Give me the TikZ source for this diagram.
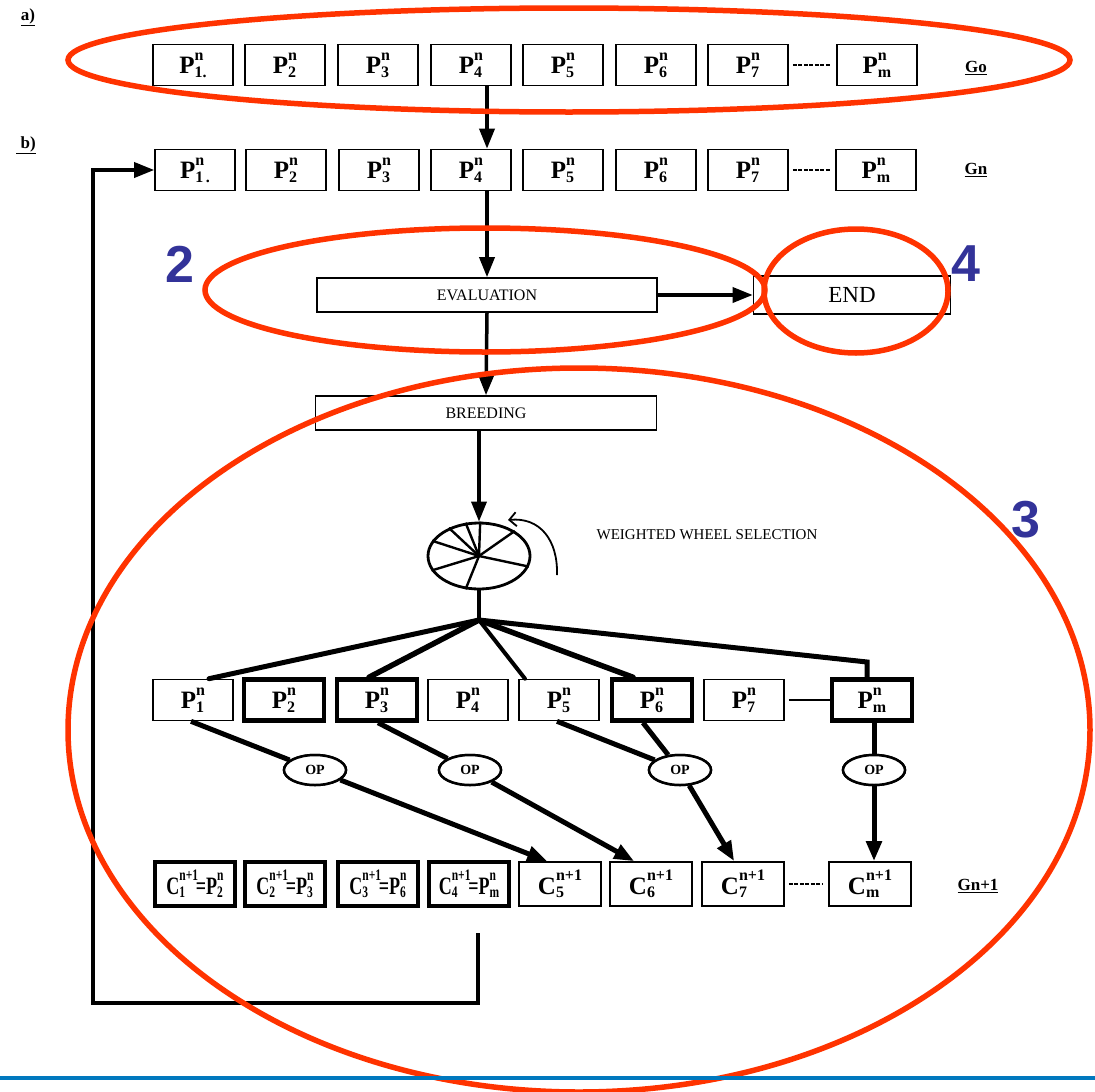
\documentclass[tikz,border=0pt]{standalone}
\usepackage{fontspec}
\setmainfont{Liberation Serif}
\newfontfamily\numfont{Liberation Sans}
\usetikzlibrary{arrows.meta,calc,shapes.geometric}
\definecolor{redc}{RGB}{255,51,0}
\definecolor{bluec}{RGB}{51,51,153}
\definecolor{linec}{RGB}{0,120,190}
\newcommand\smallfnt{\fontsize{16}{16}\selectfont}
\newcommand\supsub[2]{%
  \setbox0=\hbox{\raisebox{0.55em}{\smallfnt #1}}%
  \setbox2=\hbox{\raisebox{-0.14em}{\smallfnt #2}}%
  \ifdim\wd0>\wd2 \rlap{\box2}\box0 \else \rlap{\box0}\box2 \fi}
\newcommand\PLab[1]{P\supsub{n}{#1}}
\newcommand\CLab[1]{C\supsub{n+1}{#1}}
\newcommand\CEq[2]{\scalebox{0.72}[1]{C\supsub{n+1}{#1}\kern-3pt=P\supsub{n}{#2}}}
\tikzset{
  pb/.style={draw, line width=1.6pt, minimum width=80pt, minimum height=41pt, inner sep=0pt,
    font=\fontsize{25}{27}\selectfont\bfseries},
  pbt/.style={pb, line width=4.5pt},
  cb/.style={pb, minimum height=44pt, minimum width=82pt},
  cbt/.style={cb, line width=4.5pt, minimum width=80pt},
  wbox/.style={draw, line width=1.6pt, minimum width=340pt, minimum height=34pt, inner sep=0pt,
    font=\fontsize{16}{18}\selectfont},
  lab/.style={font=\fontsize{17}{19}\selectfont\bfseries},
  arr/.style={line width=3.5pt, -{Triangle[length=20pt,width=15pt]}},
  opn/.style={draw, ellipse, line width=2.5pt, fill=white, minimum width=62pt, minimum height=30pt,
    inner sep=0pt, font=\fontsize{14}{15}\selectfont\bfseries},
  opl/.style={line width=5pt},
  dsh/.style={line width=1.5pt, dash pattern=on 4pt off 1.5pt, shorten <=4pt, shorten >=5pt},
  redov/.style={draw=redc, line width=5.5pt},
  num/.style={text=bluec, font=\numfont\bfseries\fontsize{52}{52}\selectfont}
}
\begin{document}
\begin{tikzpicture}[x=1pt,y=-1pt]
\fill[white] (0,0) rectangle (1095,1092);
\useasboundingbox (0,0) rectangle (1095,1092);

% labels a) b)
\node[lab] (la) at (28,17) {\underline{a)}};
\node[lab] (lb) at (26,145) {\underline{\ b)}};

% row a (Go)
\node[pb] (a1) at (193,65) {\PLab{1.}};
\node[pb] (a2) at (285,65) {\PLab{2}};
\node[pb] (a3) at (378,65) {\PLab{3}};
\node[pb] (a4) at (471,65) {\PLab{4}};
\node[pb] (a5) at (563,65) {\PLab{5}};
\node[pb] (a6) at (656,65) {\PLab{6}};
\node[pb] (a7) at (748,65) {\PLab{7}};
\node[pb] (am) at (877,65) {\PLab{m}};
\node[lab] (go) at (976,68) {\underline{Go}};
\draw[dsh] (a7) -- (am);

% row b (Gn)
\node[pb] (b1) at (195,170) {\PLab{1\,.}};
\node[pb] (b2) at (286,170) {\PLab{2}};
\node[pb] (b3) at (379,170) {\PLab{3}};
\node[pb] (b4) at (471,170) {\PLab{4}};
\node[pb] (b5) at (563,170) {\PLab{5}};
\node[pb] (b6) at (656,170) {\PLab{6}};
\node[pb] (b7) at (748,170) {\PLab{7}};
\node[pb] (bm) at (876,170) {\PLab{m}};
\node[lab] (gn) at (976,170) {\underline{Gn}};
\draw[dsh] (b7) -- (bm);

% evaluation, end, breeding
\node[wbox] (ev) at (487,295) {EVALUATION};
\node[wbox, minimum width=197pt, minimum height=38pt, font=\fontsize{23}{25}\selectfont] (en) at (852,295) {END};
\node[wbox, minimum width=341pt] (br) at (486,413) {BREEDING};

\draw[arr] (a4.south -| ev.north) -- (b4.north -| ev.north);
\draw[arr] (b4.south -| ev.north) -- (ev.north);
\draw[arr] (ev.east) -- (en.west);
\draw[arr] (ev.south) -- (br.north);

% wheel
\node[draw, ellipse, line width=2.8pt, minimum width=102pt, minimum height=66pt, inner sep=0pt] (wh) at (479,556) {};
\foreach \a in {88,112,137,162,197,248,348,35}
  \draw[line width=2.4pt] (wh.center) -- (wh.\a);
\draw[arr] (br.south -| wh.north) -- (wh.north);
\coordinate (ca1) at (557,575);
\coordinate (ca2) at (508,520);
\draw[line width=1.8pt, -{Straight Barb[length=7pt,width=14pt]}] (ca1) .. controls (558,540) and (540,517) .. (ca2);
\node[font=\fontsize{15}{17}\selectfont] (wws) at (707,535) {WEIGHTED WHEEL SELECTION};
\coordinate (jn) at (479,620);
\draw[line width=3.5pt] (wh.south) -- (jn);

% row P
\node[pb] (p1) at (193,700) {\PLab{1}};
\node[pbt] (p2) at (284,700) {\PLab{2}};
\node[pbt] (p3) at (377,700) {\PLab{3}};
\node[pb] (p4) at (468,700) {\PLab{4}};
\node[pb] (p5) at (559,700) {\PLab{5}};
\node[pbt] (p6) at (652,700) {\PLab{6}};
\node[pb] (p7) at (744,700) {\PLab{7}};
\node[pbt] (pm) at (872,700) {\PLab{m}};
\draw[line width=1.5pt, shorten <=4pt] (p7) -- (pm);

% selection lines
\draw[line width=5pt, line cap=round] (jn) -- ($(p1.north)+(16,0)$);
\draw[line width=5.5pt, line cap=round] (jn) -- ($(p3.north)+(-8,0)$);
\draw[line width=4pt, line cap=round] (jn) -- ($(p5.north)+(-34,0)$);
\draw[line width=5.5pt, line cap=round] (jn) -- ($(p6.north)+(-19,0)$);
\coordinate (pk) at (867,662);
\draw[line width=5pt, line join=miter] (jn) -- (pk) -- (pk |- pm.north);

% row C
\node[cbt] (c1) at (195,884) {\CEq{1}{2}};
\node[cbt] (c2) at (285,884) {\CEq{2}{3}};
\node[cbt] (c3) at (378,884) {\CEq{3}{6}};
\node[cbt] (c4) at (469,884) {\CEq{4}{m}};
\node[cb] (c5) at (560,884) {\CLab{5}};
\node[cb] (c6) at (651,884) {\CLab{6}};
\node[cb] (c7) at (743,884) {\CLab{7}};
\node[cb] (cm) at (870,884) {\CLab{m}};
\node[lab] (gn1) at (978,886) {\underline{Gn+1}};
\draw[dsh] (c7) -- (cm);

% OP nodes and crossover lines
\node[opn] (op1) at (315,770) {OP};
\node[opn] (op2) at (470,770) {OP};
\node[opn] (op3) at (680,770) {OP};
\node[opn] (op4) at (874,770) {OP};
\draw[opl] ($(p1.south)+(-2,0)$) -- (op1);
\draw[opl, arr, line width=5pt] (op1) -- ($(c5.north west)+(29,0)$);
\draw[opl] ($(p3.south)+(1,0)$) -- (op2);
\draw[opl, arr, line width=5pt] (op2) -- ($(c6.north west)+(25,0)$);
\draw[opl] ($(p5.south)+(-2,0)$) -- (op3);
\draw[opl] ($(p6.south)+(-9,0)$) -- (op3);
\draw[opl, arr, line width=5pt] (op3) -- ($(c7.north west)+(33,0)$);
\draw[opl] (pm.south -| op4) -- (op4);
\draw[opl, arr, line width=5pt] (op4) -- (cm.north -| op4);
% redraw OP nodes on top
\node[opn] at (op1) {OP};
\node[opn] at (op2) {OP};
\node[opn] at (op3) {OP};
\node[opn] at (op4) {OP};

% feedback loop
\coordinate (fb) at (478,933);
\coordinate (lc) at (93,1003);
\draw[line width=3.5pt, -{Triangle[length=20pt,width=15pt]}] (fb) |- (lc) |- (b1.west);

% red highlight ellipses
\draw[redov] (569,60) ellipse [x radius=501pt, y radius=52pt];
\draw[redov] (485,290) ellipse [x radius=280pt, y radius=62pt];
\draw[redov] (856,291) ellipse [x radius=92pt, y radius=62pt];
\draw[redov] (579,730) ellipse [x radius=511pt, y radius=362pt];

% numbers
\node[num] (n2) at (180,264) {2};
\node[num] (n4) at (966,264) {4};
\node[num] (n3) at (1026,520) {3};

% bottom rule
\draw[linec, line width=4pt] (0,1078) -- (1095,1078);
\end{tikzpicture}
\end{document}
